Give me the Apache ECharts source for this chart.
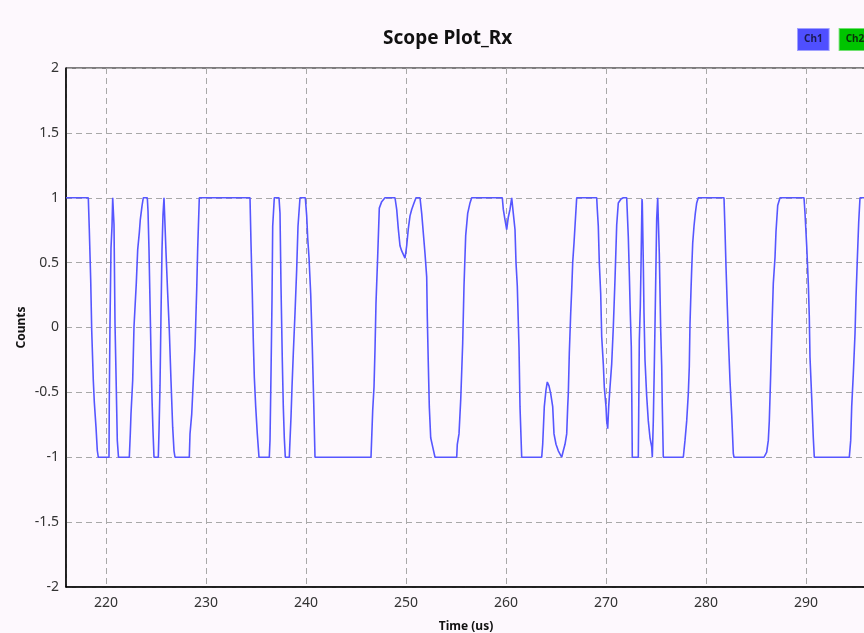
<!DOCTYPE html>
<html>
<head>
<meta charset="utf-8">
<script src="https://cdn.jsdelivr.net/npm/echarts@6/dist/echarts.min.js"></script>
<style>
html,body{margin:0;padding:0;background:#fdf8fd;}
#chart{width:864px;height:633px;}
</style>
</head>
<body>
<div id="chart"></div>
<script>
const chartTitle = 'Scope Plot_Rx';
const seriesNames = ['Ch1', 'Ch2'];
const xAxisName = 'Time (us)';
const yAxisName = 'Counts';

// Ch1 vertices: time (us)
const ch1Time = [
  216.0, 218.23, 218.33, 218.47, 218.57, 218.73, 218.83, 219.0, 219.13, 219.23,
  220.3, 220.33, 220.4, 220.5, 220.6, 220.67, 220.73, 220.8, 220.9, 221.0, 221.13, 221.25,
  222.33, 222.43, 222.5, 222.67, 222.8, 223.03, 223.17, 223.33, 223.43, 223.6, 223.73,
  224.13, 224.2, 224.3, 224.4, 224.5, 224.6, 224.7, 224.8,
  225.23, 225.3, 225.4, 225.5, 225.6, 225.7, 225.8, 225.85, 226.0, 226.17, 226.33, 226.5, 226.67, 226.8, 226.9,
  228.33, 228.4, 228.57, 228.73, 228.9, 229.07, 229.17, 229.33,
  234.4, 234.5, 234.63, 234.73, 234.83, 234.97, 235.13, 235.3,
  236.33, 236.4, 236.5, 236.6, 236.67, 236.83,
  237.3, 237.4, 237.5, 237.63, 237.73, 237.83, 237.93,
  238.33, 238.4, 238.5, 238.6, 238.73, 238.9, 239.07, 239.2, 239.4,
  239.93, 240.07, 240.17, 240.3, 240.47, 240.63, 240.77, 240.9,
  246.5, 246.57, 246.67, 246.8, 246.9, 247.0, 247.17, 247.33, 247.57, 247.9,
  248.9, 249.07, 249.23, 249.4, 249.57, 249.9, 250.07, 250.23, 250.4, 250.57, 250.8, 251.0,
  251.4, 251.57, 251.9, 252.07, 252.13, 252.23, 252.33, 252.47, 252.67, 252.9,
  255.07, 255.13, 255.3, 255.47, 255.67, 255.8, 255.97, 256.17, 256.4, 256.57,
  259.63, 259.73, 259.9, 260.07, 260.23, 260.4, 260.57, 260.63, 260.73, 260.9, 261.0, 261.13, 261.3, 261.4, 261.57,
  263.57, 263.67, 263.83, 264.0, 264.13, 264.3, 264.47, 264.67, 264.8, 265.0, 265.23, 265.57,
  265.73, 265.9, 266.07, 266.17, 266.23, 266.33, 266.47, 266.57, 266.67, 266.8, 266.9, 267.07,
  269.07, 269.13, 269.23, 269.33, 269.47, 269.57, 269.73, 269.83, 270.0, 270.07, 270.17,
  270.27, 270.4, 270.57, 270.73, 270.9, 271.07, 271.23, 271.5, 271.73,
  272.07, 272.13, 272.23, 272.33, 272.43, 272.53, 272.57, 272.63,
  273.23, 273.27, 273.33, 273.43, 273.5, 273.6, 273.63, 273.73, 273.8, 273.9, 274.07, 274.23, 274.4, 274.57, 274.63,
  274.73, 274.83, 274.93, 275.0, 275.07, 275.17, 275.23, 275.33, 275.47, 275.57, 275.63, 275.73,
  277.73, 277.9, 278.07, 278.23, 278.33, 278.4, 278.5, 278.57, 278.67, 278.8, 278.93, 279.07, 279.23,
  281.8, 281.9, 282.0, 282.13, 282.27, 282.4, 282.57, 282.73, 282.8,
  285.8, 286.07, 286.23, 286.33, 286.47, 286.6, 286.73, 286.9, 287.0, 287.17, 287.4,
  289.8, 289.9, 290.07, 290.23, 290.33, 290.4, 290.57, 290.73, 290.83,
  294.33, 294.47, 294.57, 294.73, 294.9, 295.0, 295.13, 295.27, 295.4, 295.9
];
// Ch1 vertices: counts
const ch1Value = [
  1, 1, 0.755, 0.368, -0.019, -0.406, -0.574, -0.768, -0.948, -1,
  -1, -0.548, 0.032, 0.613, 0.781, 1, 1, 0.794, 0.032, -0.355, -0.871, -1,
  -1, -0.819, -0.665, -0.406, 0.006, 0.342, 0.6, 0.729, 0.832, 0.935, 1,
  1, 0.9, 0.6, 0.2, -0.2, -0.55, -0.8, -1,
  -1, -0.8, -0.45, 0.1, 0.6, 0.87, 1, 1, 0.58, 0.26, -0.02, -0.41, -0.77, -0.95, -1,
  -1, -0.82, -0.67, -0.41, -0.15, 0.29, 0.61, 1,
  1, 0.65, 0.26, -0.1, -0.38, -0.61, -0.82, -1,
  -1, -0.87, -0.36, 0.21, 0.78, 1,
  1, 0.88, 0.32, -0.25, -0.61, -0.85, -1,
  -1, -0.87, -0.69, -0.46, -0.2, 0.11, 0.45, 0.78, 1,
  1, 0.86, 0.69, 0.54, 0.26, -0.15, -0.57, -1,
  -1, -0.85, -0.64, -0.46, -0.17, 0.19, 0.55, 0.92, 0.97, 1,
  1, 0.91, 0.76, 0.63, 0.59, 0.535, 0.63, 0.76, 0.86, 0.91, 0.96, 1,
  1, 0.88, 0.57, 0.39, 0.08, -0.28, -0.61, -0.85, -0.92, -1,
  -1, -0.9, -0.82, -0.56, -0.12, 0.32, 0.71, 0.88, 0.96, 1,
  1, 0.91, 0.83, 0.755, 0.85, 0.91, 1, 0.99, 0.88, 0.755, 0.5, 0.32, -0.15, -0.61, -1,
  -1, -0.9, -0.61, -0.48, -0.42, -0.45, -0.51, -0.61, -0.82, -0.9, -0.95, -1,
  -0.95, -0.9, -0.82, -0.61, -0.51, -0.2, 0.11, 0.29, 0.5, 0.65, 0.78, 1,
  1, 0.91, 0.78, 0.5, 0.26, -0.07, -0.28, -0.46, -0.61, -0.72, -0.78,
  -0.61, -0.46, -0.28, 0.0, 0.37, 0.79, 0.96, 0.99, 1,
  1, 0.99, 0.7, 0.42, 0.11, -0.15, -0.46, -1,
  -1, -0.67, -0.1, 0.16, 0.47, 0.99, 0.96, 0.5, 0.11, -0.25, -0.53, -0.72, -0.85, -0.92, -1,
  -0.72, -0.3, 0.16, 0.5, 0.84, 1, 1, 0.57, -0.02, -0.3, -0.61, -1,
  -1, -0.87, -0.72, -0.51, -0.3, 0.03, 0.29, 0.45, 0.65, 0.78, 0.88, 0.96, 1,
  1, 0.75, 0.47, 0.16, -0.15, -0.41, -0.67, -0.97, -1,
  -1, -0.96, -0.87, -0.72, -0.36, 0.01, 0.34, 0.54, 0.74, 0.94, 1,
  1, 0.88, 0.63, 0.34, 0.08, -0.23, -0.54, -0.85, -1,
  -1, -0.87, -0.61, -0.36, -0.05, 0.23, 0.52, 0.81, 1, 1
];
const ch2Time = [];
const ch2Value = [];

const xMin = 216, xMax = 300;
const yMin = -2, yMax = 2, yStep = 0.5;

const pair = (ts, vs) => ts.map((t, i) => [t, vs[i]]);

const chart = echarts.init(document.getElementById('chart'), null, {renderer: 'canvas'});
const font = 'Noto Sans';
const tickFont = '"Liberation Sans Narrow", "Noto Sans"';
chart.setOption({
  backgroundColor: '#fdf8fd',
  animation: false,
  title: {
    text: chartTitle,
    left: 378, top: 24,
    textStyle: {fontFamily: font, fontSize: 19, fontWeight: 'bold', color: '#111'}
  },
  legend: {
    orient: 'horizontal',
    data: [
      {name: seriesNames[0], textStyle: {backgroundColor: '#4f4fff', borderColor: '#a0a0ff', borderWidth: 1, color: '#1a1a50'}},
      {name: seriesNames[1], textStyle: {backgroundColor: '#00c400', borderColor: '#70e070', borderWidth: 1, color: '#0a300a'}}
    ],
    left: 792, top: 28, width: 160, padding: 0,
    itemWidth: 0, itemHeight: 0, itemGap: 4,
    selectedMode: false,
    textStyle: {fontFamily: font, fontSize: 10, fontWeight: 'bold', padding: [6, 6, 5, 6]}
  },
  grid: {left: 66, right: -42, top: 68, bottom: 46, outerBoundsMode: 'none', containLabel: false,
         show: true, borderColor: '#000', borderWidth: 1, backgroundColor: 'transparent'},
  xAxis: {
    type: 'value', min: xMin, max: xMax, splitNumber: 8,
    name: xAxisName, nameLocation: 'middle', nameGap: 34,
    nameTextStyle: {fontFamily: font, fontSize: 12, fontWeight: 'bold', color: '#111', padding: [0, 40, 0, 0]},
    axisLine: {onZero: false, lineStyle: {color: '#000', width: 1.5}},
    axisTick: {show: false},
    axisLabel: {fontFamily: tickFont, fontSize: 14, color: '#333', margin: 9, showMinLabel: false},
    splitLine: {show: true, lineStyle: {color: '#a8a8a8', type: [6, 4], width: 1}}
  },
  yAxis: {
    type: 'value', min: yMin, max: yMax, interval: yStep,
    name: yAxisName, nameLocation: 'middle', nameGap: 38, nameMoveOverlap: false,
    nameTextStyle: {fontFamily: font, fontSize: 12, fontWeight: 'bold', color: '#111'},
    axisLine: {show: true, onZero: false, lineStyle: {color: '#000', width: 1.5}},
    axisTick: {show: false},
    axisLabel: {fontFamily: tickFont, fontSize: 14, color: '#333', margin: 7},
    splitLine: {show: true, lineStyle: {color: '#a8a8a8', type: [6, 4], width: 1}}
  },
  series: [
    {name: seriesNames[0], type: 'line', data: pair(ch1Time, ch1Value), showSymbol: false, symbol: 'none',
     lineStyle: {color: '#5656ff', width: 1.6}, itemStyle: {color: '#4f4fff'}},
    {name: seriesNames[1], type: 'line', data: pair(ch2Time, ch2Value), showSymbol: false, symbol: 'none',
     lineStyle: {color: '#00c400', width: 1.5}, itemStyle: {color: '#00c400'}}
  ]
});
</script>
</body>
</html>
